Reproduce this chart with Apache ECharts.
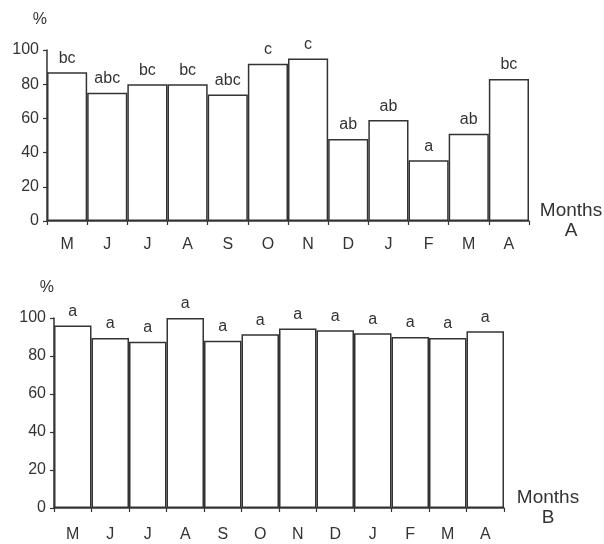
<!DOCTYPE html>
<html>
<head>
<meta charset="utf-8">
<script src="https://cdn.jsdelivr.net/npm/echarts@6/dist/echarts.min.js"></script>
<style>html,body{margin:0;padding:0;background:#fff}#c{width:604px;height:544px}</style>
</head>
<body>
<div id="c"></div>
<script>
var months = ['M','J','J','A','S','O','N','D','J','F','M','A'];
var valuesA = [87, 75, 80, 80, 74, 92, 95, 48, 59, 35.5, 51, 83];
var lettersA = ['bc','abc','bc','bc','abc','c','c','ab','ab','a','ab','bc'];
var valuesB = [96, 89.5, 87.5, 100, 88, 91.5, 94.5, 93.5, 92, 90, 89.5, 93];
var lettersB = ['a','a','a','a','a','a','a','a','a','a','a','a'];
var yTicks = [0, 20, 40, 60, 80, 100];

var ink = '#333';
var font = 'Liberation Sans, Arial, sans-serif';
var chart = echarts.init(document.getElementById('c'));

function xAxis(gi, name, gap, margin) {
  return {
    type: 'category', gridIndex: gi, data: months,
    axisLine: {lineStyle: {color: ink, width: 1.5}},
    axisTick: {show: true, length: 4, lineStyle: {color: ink, width: 1.2}},
    axisLabel: {color: ink, fontSize: 16, fontFamily: font, margin: margin},
    name: name, nameLocation: 'end', nameGap: gap,
    nameTextStyle: {color: ink, fontSize: 19, fontFamily: font, align: 'center', lineHeight: 20, verticalAlign: 'middle'}
  };
}
function yAxis(gi) {
  return {
    type: 'value', gridIndex: gi, min: 0, max: 100, interval: 20,
    splitLine: {show: false},
    axisLine: {show: true, lineStyle: {color: ink, width: 1.5}},
    axisTick: {show: true, length: 4, lineStyle: {color: ink, width: 1.2}},
    axisLabel: {color: ink, fontSize: 16, fontFamily: font, margin: 8,
      formatter: function (v) { return yTicks.indexOf(v) >= 0 ? String(v) : ''; }},
    name: '%', nameLocation: 'end', nameGap: 22,
    nameTextStyle: {color: ink, fontSize: 16, fontFamily: font, align: 'right', padding: [0, 0, 0, 0]}
  };
}
function series(gi, vals, letters) {
  return {
    type: 'bar', xAxisIndex: gi, yAxisIndex: gi,
    data: vals, barCategoryGap: 0,
    itemStyle: {color: '#fff', borderColor: ink, borderWidth: 1.5},
    label: {show: true, position: 'top', distance: 6, color: ink, fontSize: 16, fontFamily: font,
      formatter: function (p) { return letters[p.dataIndex]; }},
    silent: true, animation: false
  };
}

chart.setOption({
  animation: false,
  grid: [
    {left: 47, right: 75, top: 50, height: 171},
    {left: 54, right: 100, top: 318, height: 190}
  ],
  xAxis: [xAxis(0, 'Months\nA', 42, 16), xAxis(1, 'Months\nB', 44, 19)],
  yAxis: [yAxis(0), yAxis(1)],
  series: [series(0, valuesA, lettersA), series(1, valuesB, lettersB)]
});
</script>
</body>
</html>
